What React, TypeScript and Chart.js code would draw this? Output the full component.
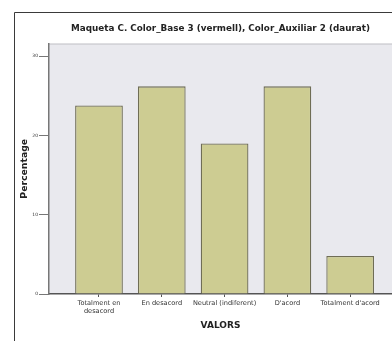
import React, { useEffect, useRef } from "react";
import { Chart, registerables } from "chart.js";

Chart.register(...registerables);

const categories: string[][] = [
  ["Totalment en", "desacord"],
  ["En desacord"],
  ["Neutral (indiferent)"],
  ["D'acord"],
  ["Totalment d'acord"],
];
const values: number[] = [23.8, 26.2, 19.0, 26.2, 4.8];
const yTicks: number[] = [0, 10, 20, 30];
const titleText = "Maqueta C. Color_Base 3 (vermell), Color_Auxiliar 2 (daurat)";
const xTitle = "VALORS";
const yTitle = "Percentage";

const FONT = "'DejaVu Sans', Verdana, sans-serif";

const framePlugin = {
  id: "framePlugin",
  beforeDraw(chart: any) {
    const { ctx, chartArea } = chart;
    ctx.save();
    ctx.strokeStyle = "#3a3a3a";
    ctx.lineWidth = 1;
    ctx.beginPath();
    ctx.moveTo(14.5, 341);
    ctx.lineTo(14.5, 12.5);
    ctx.lineTo(392, 12.5);
    ctx.stroke();
    ctx.fillStyle = "#e9e9ee";
    ctx.fillRect(chartArea.left, chartArea.top, chartArea.right - chartArea.left, chartArea.bottom - chartArea.top);
    ctx.strokeStyle = "#c4c4c8";
    ctx.beginPath();
    ctx.moveTo(chartArea.left, chartArea.top + 0.5);
    ctx.lineTo(chartArea.right, chartArea.top + 0.5);
    ctx.stroke();
    ctx.restore();
  },
};

export default function App() {
  const ref = useRef<HTMLCanvasElement>(null);
  useEffect(() => {
    if (!ref.current) return;
    const chart = new Chart(ref.current, {
      type: "bar",
      data: {
        datasets: [
          {
            data: values.map((v, i) => ({ x: i, y: v })),
            backgroundColor: "#cdcc92",
            borderColor: "#6f6d55",
            borderWidth: 1.3,
            barPercentage: 0.76,
            categoryPercentage: 1,
          },
        ],
      },
      options: {
        animation: false,
        responsive: false,
        maintainAspectRatio: false,
        layout: { padding: { left: 15, top: 13, right: 0, bottom: 0 } },
        plugins: {
          legend: { display: false },
          tooltip: { enabled: false },
          title: {
            display: true,
            text: titleText,
            fullSize: false,
            color: "#222",
            font: { family: FONT, size: 8.8, weight: "bold", lineHeight: 1.2 },
            padding: { top: 10, bottom: 10 },
          },
        },
        scales: {
          x: {
            type: "linear",
            offset: false,
            min: -0.796,
            max: 4.666,
            afterBuildTicks: (scale: any) => {
              scale.ticks = categories.map((_, i) => ({ value: i }));
            },
            afterFit: (scale: any) => {
              scale.height = 47;
            },
            grid: { display: true, offset: false, drawOnChartArea: false, drawTicks: true, tickLength: 3, color: "#555" },
            border: { display: true, color: "#555", width: 1.5 },
            ticks: {
              autoSkip: false,
              maxRotation: 0,
              padding: 3,
              color: "#333",
              font: { family: FONT, size: 6.6, lineHeight: 1.1 },
              callback: (v: any) => categories[v as number] ?? "",
            },
            title: {
              display: true,
              text: xTitle,
              color: "#222",
              font: { family: FONT, size: 9, weight: "bold" },
              padding: { top: 0, bottom: 10 },
            },
          },
          y: {
            min: 0,
            max: 31.6,
            afterBuildTicks: (scale: any) => {
              scale.ticks = yTicks.map((v) => ({ value: v }));
            },
            afterFit: (scale: any) => {
              scale.width = 34;
            },
            grid: { display: true, drawOnChartArea: false, drawTicks: true, tickLength: 10, color: "#777" },
            border: { display: true, color: "#777", width: 1.5 },
            ticks: {
              includeBounds: false,
              padding: 1,
              color: "#333",
              font: { family: FONT, size: 4.5 },
            },
            title: {
              display: true,
              text: yTitle,
              color: "#222",
              font: { family: FONT, size: 9.3, weight: "bold" },
              padding: { top: 4, bottom: 0 },
            },
          },
        },
      },
      plugins: [framePlugin],
    } as any);
    return () => chart.destroy();
  }, []);
  return (
    <div style={{ position: "absolute", left: 0, top: 0, width: 392, height: 341, background: "#fff" }}>
      <canvas ref={ref} width={392} height={341} style={{ width: 392, height: 341, display: "block" }} />
    </div>
  );
}
